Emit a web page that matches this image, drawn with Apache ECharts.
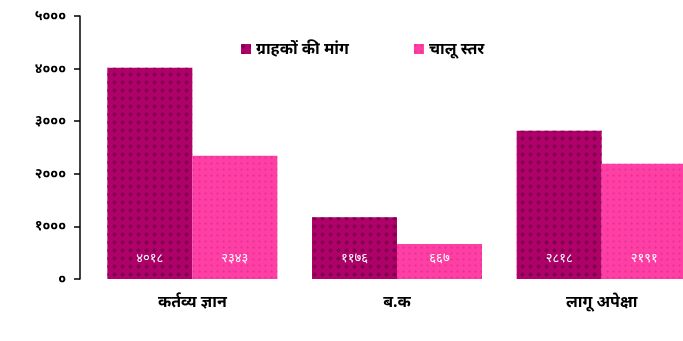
<!DOCTYPE html>
<html>
<head>
<meta charset="utf-8">
<script src="https://cdn.jsdelivr.net/npm/echarts@6/dist/echarts.min.js"></script>
<style>
  html, body { margin: 0; padding: 0; background: #ffffff; }
  #chart { width: 683px; height: 341px; }
</style>
</head>
<body>
<div id="chart"></div>
<script>
// Categories and series
const categories = ['कर्तव्य ज्ञान', 'ब.क', 'लागू अपेक्षा'];
const seriesNames = ['ग्राहकों की मांग', 'चालू स्तर'];
const demandValues = [4018, 1176, 2818];
const currentValues = [2343, 667, 2191];
const yTicks = [0, 1000, 2000, 3000, 4000, 5000];
const devanagariDigits = ['०', '१', '२', '३', '४', '५', '६', '७', '८', '९'];

function toDevanagari(n) {
  return String(n).replace(/[0-9]/g, d => devanagariDigits[+d]);
}

const FONT = "'Noto Sans', 'DejaVu Sans', sans-serif";

const chart = echarts.init(document.getElementById('chart'), null, { renderer: 'canvas' });

chart.setOption({
  animation: false,
  backgroundColor: '#ffffff',
  textStyle: { fontFamily: FONT },
  legend: {
    top: 36,
    left: 236,
    itemWidth: 10,
    itemHeight: 10,
    itemGap: 65,
    icon: 'rect',
    textStyle: { color: '#000', fontSize: 16, fontWeight: 'bold', fontFamily: FONT },
    data: seriesNames
  },
  // plot area runs past the right edge so the last pair of bars is clipped at the border
  grid: { left: 90, width: 614, top: 16, bottom: 62, containLabel: false, outerBoundsMode: 'none' },
  xAxis: {
    type: 'category',
    data: categories,
    axisLine: { show: false },
    axisTick: { show: false },
    axisLabel: { color: '#000', fontSize: 16, fontWeight: 'bold', margin: 15, fontFamily: FONT }
  },
  yAxis: {
    type: 'value',
    min: yTicks[0],
    max: yTicks[yTicks.length - 1],
    interval: 1000,
    offset: 10,
    splitLine: { show: false },
    axisLine: { show: true, lineStyle: { color: '#000', width: 1.5 } },
    axisTick: { show: true, length: 6, lineStyle: { color: '#000', width: 1.5 } },
    axisLabel: { color: '#000', fontSize: 14, fontWeight: 'bold', margin: 14, fontFamily: FONT, formatter: v => toDevanagari(v) }
  },
  series: [
    {
      name: seriesNames[0],
      type: 'bar',
      data: demandValues,
      barWidth: 85,
      barGap: '0%',
      itemStyle: {
        color: '#b0006a',
        decal: {
          symbol: 'diamond',
          symbolSize: 1,
          color: 'rgba(110,0,70,0.75)',
          dashArrayX: [5, 3],
          dashArrayY: [5, 3],
          rotation: 0
        }
      },
      label: {
        show: true,
        position: 'insideBottom',
        distance: 14,
        color: '#fff',
        fontSize: 13,
        fontFamily: FONT,
        formatter: p => toDevanagari(p.value)
      }
    },
    {
      name: seriesNames[1],
      type: 'bar',
      data: currentValues,
      barWidth: 85,
      itemStyle: {
        color: '#ff3fa3',
        decal: {
          symbol: 'rect',
          symbolSize: 0.6,
          color: 'rgba(200,40,150,0.6)',
          dashArrayX: [3, 3],
          dashArrayY: [3, 3],
          rotation: 0
        }
      },
      label: {
        show: true,
        position: 'insideBottom',
        distance: 14,
        color: '#fff',
        fontSize: 13,
        fontFamily: FONT,
        formatter: p => toDevanagari(p.value)
      }
    }
  ]
});
</script>
</body>
</html>
